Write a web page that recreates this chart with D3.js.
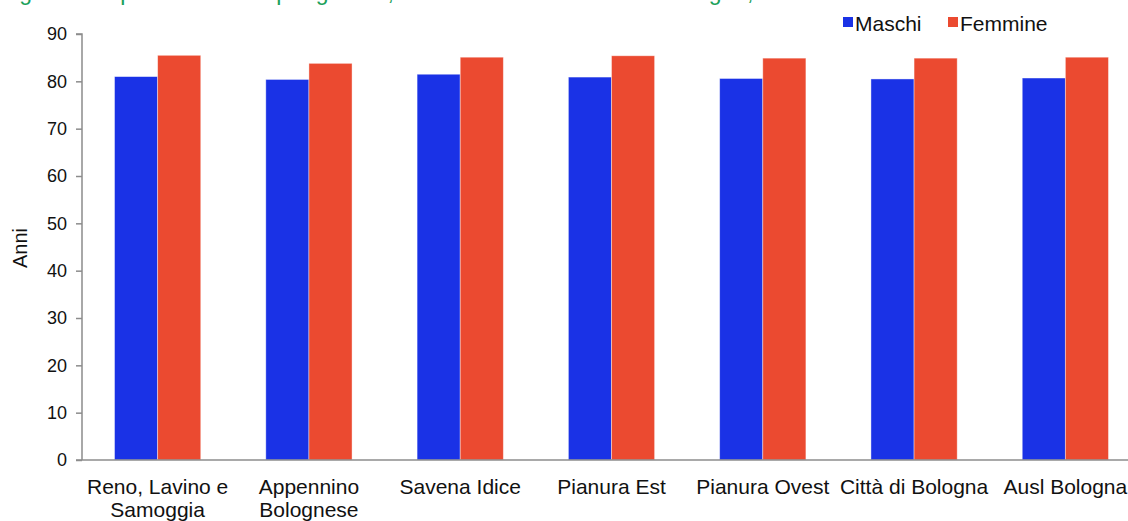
<!DOCTYPE html>
<html>
<head>
<meta charset="utf-8">
<script src="https://cdn.jsdelivr.net/npm/d3@7"></script>
<style>
  html, body { margin: 0; padding: 0; background: #fff; }
  svg { display: block; font-family: "Liberation Sans", Arial, sans-serif; }
</style>
</head>
<body>
<svg id="chart" width="1128" height="521"></svg>
<script>
const categories = [["Reno, Lavino e", "Samoggia"], ["Appennino", "Bolognese"], ["Savena Idice"], ["Pianura Est"], ["Pianura Ovest"], ["Città di Bologna"], ["Ausl Bologna"]];
const seriesNames = ["Maschi", "Femmine"];
const maschi = [81.0, 80.4, 81.5, 80.9, 80.6, 80.5, 80.7];
const femmine = [85.5, 83.8, 85.1, 85.4, 84.9, 84.9, 85.1];
const yTicks = [0, 10, 20, 30, 40, 50, 60, 70, 80, 90];
const titleText = "Figura 5 - Speranza di vita per genere, distretti e Azienda USL di Bologna, 2019";
const colors = ["#1a32e6", "#eb4a30"];

const svg = d3.select("#chart");
const margin = { left: 82, top: 34, bottom: 460, right: 1141 };

const x0 = d3.scaleBand().domain(d3.range(categories.length)).range([margin.left, margin.right]).paddingInner(0.43).paddingOuter(0.215);
const x1 = d3.scaleBand().domain(seriesNames).range([0, x0.bandwidth()]);
const y = d3.scaleLinear().domain([0, 90]).range([margin.bottom, margin.top]);

// title (cut off at top, as in the reference)
svg.append("text").attr("x", 0).attr("y", 0).attr("fill", "#1aa05a").style("font-size", "23px").text(titleText);

// bars
const data = categories.map((c, i) => ({ i, vals: [maschi[i], femmine[i]] }));
const g = svg.append("g").selectAll("g").data(data).join("g").attr("transform", d => `translate(${x0(d.i)},0)`);
g.selectAll("rect").data(d => d.vals.map((v, k) => ({ k, v }))).join("rect")
  .attr("x", d => x1(seriesNames[d.k]))
  .attr("y", d => y(d.v))
  .attr("width", x1.bandwidth())
  .attr("height", d => y(0) - y(d.v))
  .attr("fill", d => colors[d.k])
  .attr("stroke", "rgba(255,255,255,0.5)")
  .attr("stroke-width", 0.8);

// y axis
const yAxis = d3.axisLeft(y).tickValues(yTicks).tickSize(6).tickPadding(9);
const ya = svg.append("g").attr("transform", `translate(${margin.left},0)`).call(yAxis);
ya.select(".domain").attr("stroke", "#8c8c8c").attr("stroke-width", 1.5).attr("d", `M-6,${y(90)}H0V${y(0)}`);
ya.selectAll(".tick line").attr("stroke", "#8c8c8c").attr("stroke-width", 1.5);
ya.selectAll(".tick text").attr("fill", "#111").style("font-size", "18px").style("font-family", "Liberation Sans, Arial, sans-serif");

// x baseline
svg.append("line").attr("x1", margin.left - 6).attr("x2", 1128).attr("y1", y(0)).attr("y2", y(0)).attr("stroke", "#8c8c8c").attr("stroke-width", 1.5);

// category labels
const lab = svg.append("g").selectAll("text").data(categories).join("text")
  .attr("x", (d, i) => x0(i) + x0.bandwidth() / 2)
  .attr("y", 494)
  .attr("text-anchor", "middle")
  .attr("fill", "#111")
  .style("font-size", "21px");
lab.selectAll("tspan").data(d => d).join("tspan")
  .attr("x", function () { return d3.select(this.parentNode).attr("x"); })
  .attr("dy", (d, j) => j === 0 ? 0 : 23)
  .text(d => d);

// y label
svg.append("text").attr("transform", `translate(27,248) rotate(-90)`).attr("text-anchor", "middle")
  .attr("fill", "#111").style("font-size", "20px").text("Anni");

// legend
const leg = svg.append("g");
const legX = [843, 948];
seriesNames.forEach((s, k) => {
  leg.append("rect").attr("x", legX[k]).attr("y", 17).attr("width", 10).attr("height", 10).attr("fill", colors[k]);
  leg.append("text").attr("x", legX[k] + 12).attr("y", 31).attr("fill", "#111").style("font-size", "21px").text(s);
});
</script>
</body>
</html>
